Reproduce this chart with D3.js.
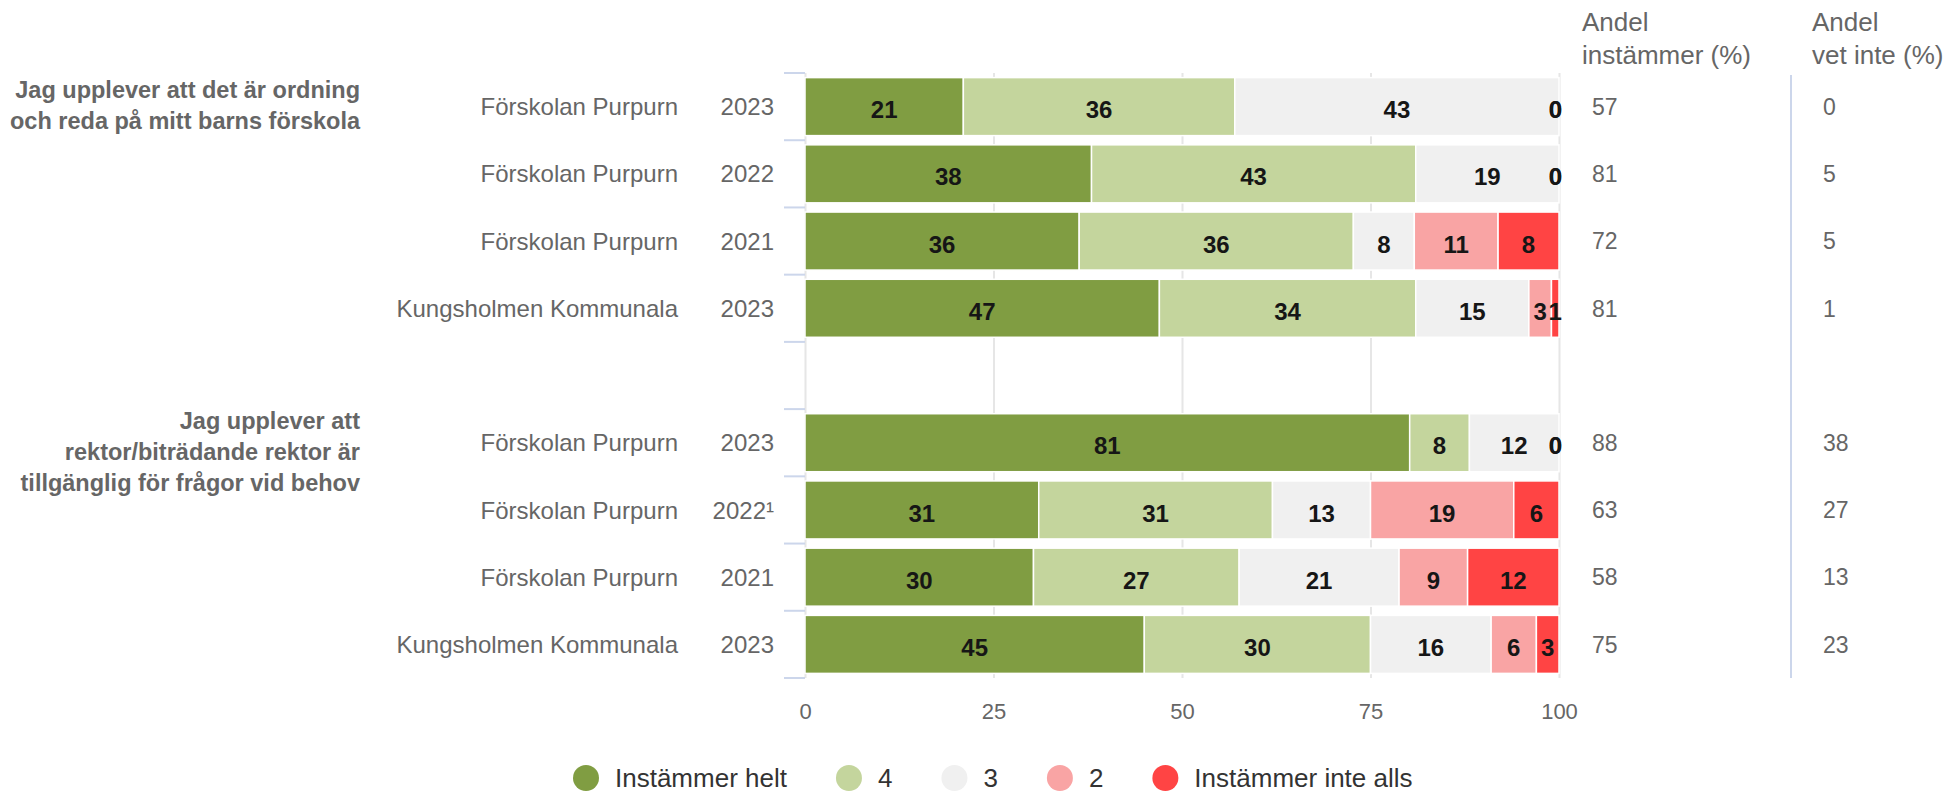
<!DOCTYPE html>
<html>
<head>
<meta charset="utf-8">
<script src="https://cdn.jsdelivr.net/npm/d3@7"></script>
<style>
  body { margin: 0; background: #fff; }
  svg { font-family: "Liberation Sans", Arial, Helvetica, sans-serif; }
</style>
</head>
<body>
<div id="chart"></div>
<script>
// question groups (label lines), each group has 4 rows
const questions = [
  ["Jag upplever att det är ordning", "och reda på mitt barns förskola"],
  ["Jag upplever att", "rektor/biträdande rektor är", "tillgänglig för frågor vid behov"],
];
const units = [
  "Förskolan Purpurn", "Förskolan Purpurn", "Förskolan Purpurn", "Kungsholmen Kommunala",
  "Förskolan Purpurn", "Förskolan Purpurn", "Förskolan Purpurn", "Kungsholmen Kommunala",
];
const years = ["2023", "2022", "2021", "2023", "2023", "2022¹", "2021", "2023"];

const seriesNames = ["Instämmer helt", "4", "3", "2", "Instämmer inte alls"];
const seriesColors = ["#809d42", "#c4d59d", "#f0f0f0", "#f9a4a4", "#ff4444"];

const instammerHelt = [21, 38, 36, 47, 81, 31, 30, 45];
const svar4 = [36, 43, 36, 34, 8, 31, 27, 30];
const svar3 = [43, 19, 8, 15, 12, 13, 21, 16];
const svar2 = [0, 0, 11, 3, 0, 19, 9, 6];
const instammerInteAlls = [0, 0, 8, 1, 0, 6, 12, 3];

const andelInstammer = [57, 81, 72, 81, 88, 63, 58, 75];
const andelVetInte = [0, 5, 5, 1, 38, 27, 13, 23];

const xTicks = [0, 25, 50, 75, 100];

// ---------------------------------------------------------------
const width = 1950;
const height = 792;
const plot = { left: 805, right: 1559, top: 73, bottom: 678 };
const font = { tick: 22, label: 24, cat: 24, group: 23.5, value: 23, head: 26, legend: 26 };

const svg = d3
  .select("#chart")
  .append("svg")
  .attr("width", width)
  .attr("height", height);

// row keys with one empty slot between the two questions
const rowKeys = ["0", "1", "2", "3", "gap", "4", "5", "6", "7"];
const rowOf = (i) => String(i);

const x = d3.scaleLinear().domain([0, 100]).range([plot.left, plot.right]);
const y = d3.scaleBand().domain(rowKeys).range([plot.top, plot.bottom]);
const barH = 58;
const mid = (i) => y(rowOf(i)) + y.bandwidth() / 2;

// build stacked (percent) rows
const rows = units.map((u, i) => {
  const vals = [instammerHelt[i], svar4[i], svar3[i], svar2[i], instammerInteAlls[i]];
  const total = d3.sum(vals);
  let acc = 0;
  const segs = vals.map((v, s) => {
    const x0 = (acc / total) * 100;
    acc += v;
    const x1 = (acc / total) * 100;
    return { v, s, x0, x1, row: i };
  });
  return { i, unit: u, year: years[i], segs };
});

// vertical grid lines
svg
  .append("g")
  .attr("transform", `translate(0,${plot.bottom})`)
  .call(d3.axisBottom(x).tickValues(xTicks).tickSize(-(plot.bottom - plot.top)).tickFormat(""))
  .call((g) => g.select(".domain").remove())
  .call((g) => g.selectAll(".tick line").attr("stroke", "#e6e6e6").attr("stroke-width", 2));

// x tick labels
svg
  .append("g")
  .attr("transform", `translate(0,${plot.bottom})`)
  .call(d3.axisBottom(x).tickValues(xTicks).tickSize(0).tickPadding(25))
  .call((g) => g.select(".domain").remove())
  .call((g) =>
    g
      .selectAll(".tick text")
      .attr("fill", "#666")
      .attr("font-size", font.tick)
      .attr("font-family", null)
  );

// left tick marks at row boundaries
const bounds = rowKeys.map((k) => y(k)).concat([plot.bottom]);
svg
  .append("g")
  .selectAll("line")
  .data(bounds)
  .enter()
  .append("line")
  .attr("x1", plot.left - 21)
  .attr("x2", plot.left)
  .attr("y1", (d) => d)
  .attr("y2", (d) => d)
  .attr("stroke", "#ccd6eb")
  .attr("stroke-width", 2);

// bars
const segData = rows.flatMap((r) => r.segs);
svg
  .append("g")
  .selectAll("rect")
  .data(segData.filter((d) => d.v > 0))
  .enter()
  .append("rect")
  .attr("x", (d) => x(d.x0))
  .attr("width", (d) => x(d.x1) - x(d.x0))
  .attr("y", (d) => mid(d.row) - barH / 2)
  .attr("height", barH)
  .attr("fill", (d) => seriesColors[d.s])
  .attr("stroke", "#fff")
  .attr("stroke-width", 1.5);

// bar labels
svg
  .append("g")
  .selectAll("text")
  .data(segData)
  .enter()
  .append("text")
  .attr("x", (d) => {
    const c = (x(d.x0) + x(d.x1)) / 2;
    return d.v === 0 ? plot.right + 3 : c;
  })
  .attr("text-anchor", (d) => (d.v === 0 ? "end" : "middle"))
  .attr("y", (d) => mid(d.row) + 3)
  .attr("dy", "0.36em")
  .attr("font-size", font.label)
  .attr("font-weight", "bold")
  .attr("fill", "#161616")
  .text((d) => d.v);

// category labels (unit + year)
const catG = svg.append("g").attr("fill", "#666").attr("font-size", font.cat);
catG
  .selectAll(".unit")
  .data(rows)
  .enter()
  .append("text")
  .attr("class", "unit")
  .attr("x", 678)
  .attr("y", (d) => mid(d.i))
  .attr("dy", "0.36em")
  .attr("text-anchor", "end")
  .text((d) => d.unit);
catG
  .selectAll(".year")
  .data(rows)
  .enter()
  .append("text")
  .attr("class", "year")
  .attr("x", 774)
  .attr("y", (d) => mid(d.i))
  .attr("dy", "0.36em")
  .attr("text-anchor", "end")
  .text((d) => d.year);

// question labels, block placed beside the first row of each group
const qOffset = [-17, -22];
const lineH = 31;
questions.forEach((lines, q) => {
  const cy = mid(q * 4) + qOffset[q];
  svg
    .append("text")
    .attr("text-anchor", "end")
    .attr("fill", "#666")
    .attr("font-size", font.group)
    .attr("font-weight", "bold")
    .selectAll("tspan")
    .data(lines)
    .enter()
    .append("tspan")
    .attr("x", 360)
    .attr("y", (d, k) => cy + k * lineH)
    .attr("dy", "0.36em")
    .text((d) => d);
});

// right-hand columns
const cols = [
  { head: ["Andel", "instämmer (%)"], vals: andelInstammer, hx: 1582, vx: 1592 },
  { head: ["Andel", "vet inte (%)"], vals: andelVetInte, hx: 1812, vx: 1823 },
];
cols.forEach((c) => {
  svg
    .append("g")
    .selectAll("text")
    .data(c.head)
    .enter()
    .append("text")
    .attr("x", c.hx)
    .attr("y", (d, k) => 22 + k * 33)
    .attr("dy", "0.36em")
    .attr("fill", "#666")
    .attr("font-size", font.head)
    .text((d) => d);
  svg
    .append("g")
    .selectAll("text")
    .data(c.vals)
    .enter()
    .append("text")
    .attr("x", c.vx)
    .attr("y", (d, i) => mid(i))
    .attr("dy", "0.36em")
    .attr("fill", "#666")
    .attr("font-size", font.value)
    .text((d) => d);
});

// divider between the two columns
svg
  .append("line")
  .attr("x1", 1791)
  .attr("x2", 1791)
  .attr("y1", 75)
  .attr("y2", plot.bottom)
  .attr("stroke", "#ccd6eb")
  .attr("stroke-width", 2);

// legend
const legend = svg.append("g").attr("transform", "translate(586,778)");
let lx = 0;
seriesNames.forEach((name, s) => {
  const item = legend.append("g").attr("transform", `translate(${lx},0)`);
  item.append("circle").attr("r", 13).attr("fill", seriesColors[s]);
  const t = item
    .append("text")
    .attr("x", 29)
    .attr("dy", "0.36em")
    .attr("fill", "#333")
    .attr("font-size", font.legend)
    .text(name);
  lx += 29 + t.node().getComputedTextLength() + 62;
});
</script>
</body>
</html>
